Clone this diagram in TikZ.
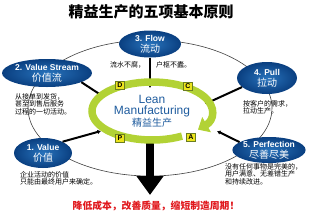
\documentclass[tikz,border=0pt]{standalone}
\usepackage{fontspec}
\setsansfont{Liberation Sans}
\newfontfamily\cjk{Noto Sans CJK SC}
\usetikzlibrary{arrows.meta, positioning, shapes.geometric, calc}

\definecolor{leanblue}{HTML}{1F5C9E}
\definecolor{balldark}{HTML}{0A3F80}
\definecolor{balllight}{HTML}{2873BC}
\definecolor{ringgreen}{HTML}{B2D235}
\definecolor{badgeyellow}{HTML}{ECE41C}
\definecolor{slogan}{HTML}{E0161B}

\tikzset{
  principle/.style={ellipse, inner sep=0pt, inner color=balllight, outer color=balldark,
    text=white, align=center, font=\sffamily\bfseries\fontsize{8.5}{11}\selectfont},
  note/.style={align=left, inner sep=0pt, font=\cjk\fontsize{7}{7.6}\selectfont},
  feed/.style={line width=2pt, -{Latex[length=3.5pt,width=4.5pt]}},
  badge/.style={draw=ringgreen!60!black, fill=badgeyellow, inner sep=0.8pt,
    minimum width=9pt, minimum height=8pt, font=\sffamily\bfseries\fontsize{7}{7}\selectfont},
}
\newcommand{\zh}[1]{{\cjk\mdseries\fontsize{10}{12}\selectfont #1}}

\begin{document}
\begin{tikzpicture}[x=1pt, y=-1pt]
\useasboundingbox (0,0) rectangle (316,223);

% title
\node (title) at (151,12) {\cjk\bfseries\fontsize{15}{15}\selectfont 精益生产的五项基本原则};

% orbit behind the five principles
\draw[line width=0.6pt, black!75] (150,108) ellipse [x radius=122, y radius=68];

% the five principles
\node[principle, minimum width=58, minimum height=30] (v1) at (43,153) {1. Value\\\zh{价值}};
\node[principle, minimum width=72, minimum height=28] (v2) at (47,73) {2. Value Stream\\\zh{价值流}};
\node[principle, minimum width=62, minimum height=27] (v3) at (150,44) {3. Flow\\\zh{流动}};
\node[principle, minimum width=60, minimum height=32] (v4) at (267,78) {4. Pull\\\zh{拉动}};
\node[principle, minimum width=68, minimum height=26] (v5) at (269,150) {5. Perfection\\\zh{尽善尽美}};

% notes
\node[note, anchor=north west] (n1) at (20,171) {企业活动的价值\\只能由最终用户来确定。};
\node[note, anchor=north west] (n2) at (15,93) {从接单到发货，\\甚至到售后服务\\过程的一切活动。};
\node[note, anchor=west] (n3a) at (110,65) {流水不腐，};
\node[note, anchor=west] (n3b) at (156,65) {户枢不蠹。};
\node[note, anchor=north west] (n4) at (243,100) {按客户的需求，\\拉动生产。};
\node[note, anchor=north west] (n5) at (225,163) {没有任何事物是完美的，\\用户满意、无差错生产\\和持续改进。};

% centre
\node[ellipse, minimum width=128, minimum height=64, inner sep=0pt, align=center,
  text=leanblue, font=\sffamily\fontsize{12}{10.8}\selectfont] (lean) at (152,111)
  {Lean\\Manufacturing\\{\cjk\fontsize{10}{10}\selectfont 精益生产}};

% connectors into the cycle
\coordinate (inTop) at (150,88);
\coordinate (inStream) at (104,97);
\coordinate (inValue) at (101,131);
\coordinate (inPull) at (205,104);
\coordinate (inPerf) at (217,131);
\draw[feed] (v3) -- (inTop);
\draw[feed] (v2.-15) -- (inStream);
\draw[feed] (v1.30) -- (inValue);
\draw[feed] (v4.200) -- (inPull);
\draw[feed] (v5.165) -- (inPerf);

% result arrow
\coordinate (sink) at (150,195);
\draw[line width=8pt, -{Triangle[length=19pt, width=26pt]}] (sink |- lean.south) -- (sink);

% PDCA ring
\draw[ringgreen, line width=7.5pt, -{Triangle[length=10pt, width=17pt]}]
  ([shift={(60:60 and 29)}]lean.center) arc[start angle=60, end angle=400, x radius=60, y radius=29];
\node[badge] (d) at (120,85) {D};
\node[badge] (c) at (188,86) {C};
\node[badge] (p) at (120,138) {P};
\node[badge] (a) at (191,137) {A};

% slogan
\node[text=slogan] (slogan) at (156,206) {\cjk\bfseries\fontsize{9.8}{10}\selectfont 降低成本，改善质量，缩短制造周期！};
\end{tikzpicture}
\end{document}
